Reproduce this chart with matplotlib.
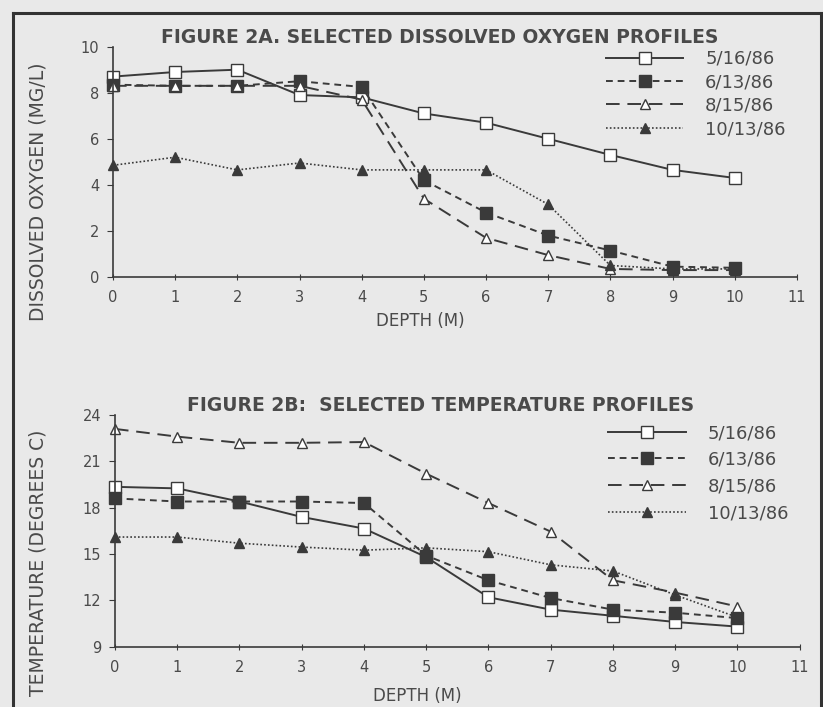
import matplotlib.pyplot as plt
from matplotlib.lines import Line2D

plt.rcParams['font.family'] = ['DejaVu Sans']

depth = [0, 1, 2, 3, 4, 5, 6, 7, 8, 9, 10]
dates = ['5/16/86', '6/13/86', '8/15/86', '10/13/86']

# dissolved oxygen (mg/l)
do_0516 = [8.7, 8.9, 9.0, 7.9, 7.8, 7.1, 6.7, 6.0, 5.3, 4.65, 4.3]
do_0613 = [8.35, 8.3, 8.3, 8.5, 8.25, 4.2, 2.8, 1.8, 1.15, 0.45, 0.4]
do_0815 = [8.3, 8.3, 8.3, 8.3, 7.7, 3.4, 1.7, 0.95, 0.35, 0.3, 0.3]
do_1013 = [4.85, 5.2, 4.65, 4.95, 4.65, 4.65, 4.65, 3.15, 0.5, 0.35, 0.35]

# temperature (degrees c)
t_0516 = [19.35, 19.25, 18.4, 17.4, 16.65, 14.8, 12.2, 11.4, 11.0, 10.6, 10.3]
t_0613 = [18.6, 18.4, 18.4, 18.4, 18.3, 14.9, 13.3, 12.15, 11.4, 11.2, 10.85]
t_0815 = [23.1, 22.6, 22.2, 22.2, 22.25, 20.2, 18.3, 16.45, 13.3, 12.5, 11.6]
t_1013 = [16.1, 16.1, 15.7, 15.45, 15.25, 15.4, 15.15, 14.3, 13.9, 12.35, 10.9]

ink = '#3a3a3a'
txt = '#4a4a4a'
bg = '#e9e9e9'

styles = [
    dict(ls='-', marker='s', mfc='white', ms=8, lw=1.4),
    dict(ls=(0, (3.5, 2.5)), marker='s', mfc=ink, ms=8, lw=1.4),
    dict(ls=(0, (7, 4)), marker='^', mfc='white', ms=7, lw=1.4),
    dict(ls=(0, (1, 1.3)), marker='^', mfc=ink, ms=7, lw=1.2),
]

fig = plt.figure(figsize=(8.23, 7.07), dpi=100, facecolor=bg)
ax1 = fig.add_axes([0.1373, 0.6082, 0.831, 0.3258])
ax2 = fig.add_axes([0.1397, 0.0853, 0.832, 0.3277])


def draw(ax, series, ylim, yticks, title, title_x, ylabel, ylab_x, ylab_y,
         xlab_x, xlab_y, leg_anchor, leg_sp):
    ax.set_facecolor('none')
    for vals, lab, st in zip(series, dates, styles):
        ax.plot(depth, vals, color=ink, mec=ink, mew=1.0, label=lab,
                clip_on=False, **st)
    ax.set_xlim(0, 11)
    ax.set_ylim(*ylim)
    ax.set_xticks(range(0, 12))
    ax.set_yticks(yticks)
    for s in ['top', 'right']:
        ax.spines[s].set_visible(False)
    for s in ['left', 'bottom']:
        ax.spines[s].set_color(ink)
        ax.spines[s].set_linewidth(1.2)
    ax.tick_params(axis='x', direction='inout', length=5, colors=ink,
                   labelcolor=txt, labelsize=10.5, pad=7)
    ax.tick_params(axis='y', direction='out', length=4, colors=ink,
                   labelcolor=txt, labelsize=10.5, pad=6)
    ax.set_title(title, x=title_x, fontsize=13.5, color=txt, fontweight='bold', pad=2)
    ax.set_xlabel('DEPTH (M)', fontsize=12, color=txt)
    ax.xaxis.set_label_coords(xlab_x, xlab_y)
    ax.set_ylabel(ylabel, fontsize=13.5, color=txt)
    ax.yaxis.set_label_coords(ylab_x, ylab_y)
    ax.legend(loc='upper left', bbox_to_anchor=leg_anchor, frameon=False,
              fontsize=13, labelcolor=txt, handlelength=4.3, handletextpad=1.2,
              labelspacing=leg_sp, numpoints=1, borderaxespad=0)


draw(ax1, [do_0516, do_0613, do_0815, do_1013], (0, 10), range(0, 11, 2),
     'FIGURE 2A. SELECTED DISSOLVED OXYGEN PROFILES', 0.478,
     'DISSOLVED OXYGEN (MG/L)', -0.0965, 0.37, 0.449, -0.15, (0.71, 1.017), 0.3)
draw(ax2, [t_0516, t_0613, t_0815, t_1013], (9, 24), range(9, 25, 3),
     'FIGURE 2B:  SELECTED TEMPERATURE PROFILES', 0.475,
     'TEMPERATURE (DEGREES C)', -0.099, 0.36, 0.441, -0.175, (0.71, 0.992), 0.48)

# outer frame of the scanned page
fig.add_artist(Line2D([13 / 823, 13 / 823], [0, 1 - 13 / 707], color='#333333', lw=2.2))
fig.add_artist(Line2D([13 / 823, 1], [1 - 13 / 707, 1 - 13 / 707], color='#333333', lw=2.2))
fig.add_artist(Line2D([821 / 823, 821 / 823], [0, 1 - 13 / 707], color='#333333', lw=2.2))

fig.savefig('out.png', dpi=100, facecolor=bg)
